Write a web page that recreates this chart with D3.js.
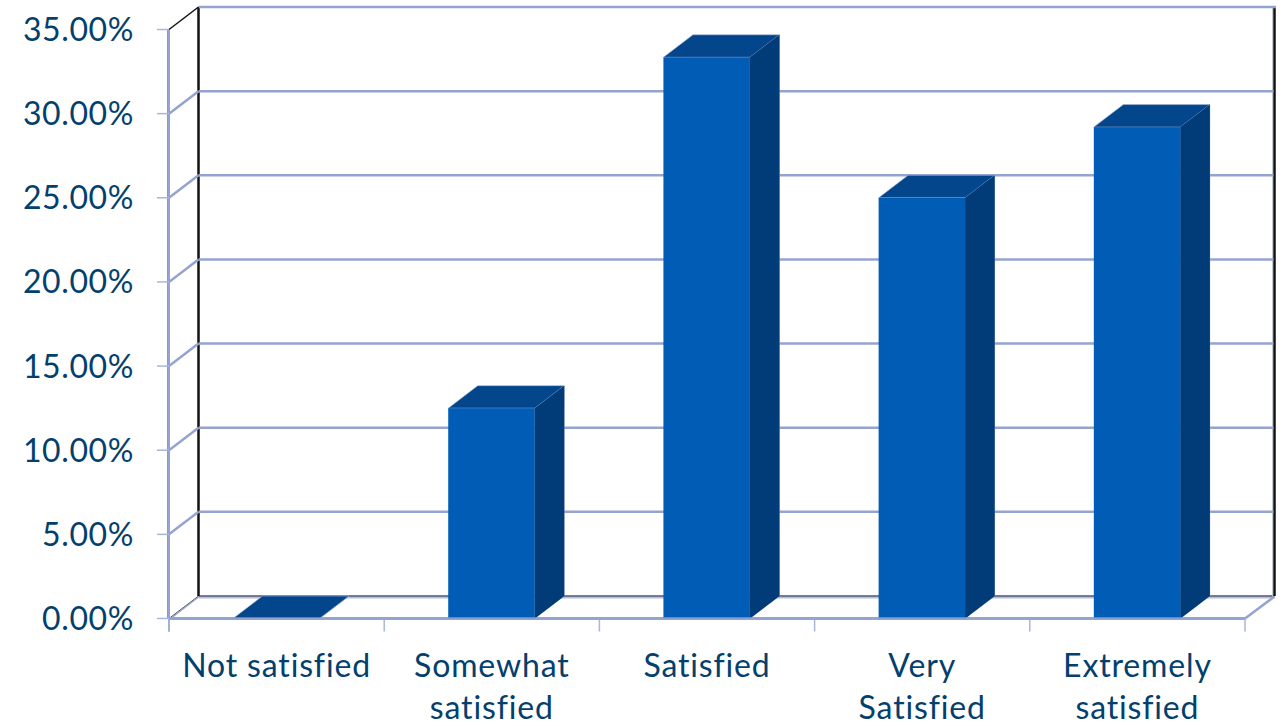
<!DOCTYPE html>
<html><head><meta charset="utf-8">
<script src="https://cdn.jsdelivr.net/npm/d3@7"></script>
<style>html,body{margin:0;padding:0;background:#fff;overflow:hidden}svg{display:block}text{font-family:Lato,"Open Sans",sans-serif;fill:#03406d}</style>
</head><body><svg id="c" width="1284" height="726"></svg>
<script>
const categories = [["Not satisfied"],["Somewhat","satisfied"],["Satisfied"],["Very","Satisfied"],["Extremely","satisfied"]];
const values = [0, 12.5, 33.35, 25.0, 29.2];
const yTicks = [0,5,10,15,20,25,30,35];

const svg = d3.select("#c");
const left=169, right=1245, base=618.5, top_=29.5, dx=29.5, dy=-22.5;
const x = d3.scaleBand().domain(d3.range(categories.length)).range([left,right]);
const y = d3.scaleLinear().domain([0,35]).range([base,top_]);
const barOffset=.2975, barW=.402;
const grid="#95a3d0", dark="#111", front="#015cb5", side="#023c78", topc="#03468c";
const line=(a,b,c,d,col,w)=>svg.append("line").attr("x1",a).attr("y1",b).attr("x2",c).attr("y2",d).attr("stroke",col).attr("stroke-width",w);

// floor
line(left+dx,base+dy+1.5,right+dx,base+dy+1.5,"#b4bfdf",2);
line(left+dx,base+dy,right+dx,base+dy,"#4d5272",1.5);
line(left,base,left+dx,base+dy,"#444",1);
line(left+1,base+.5,left+dx,base+dy+1,grid,1.5);
line(right,base,right+dx,base+dy+.5,grid,2.5);
// back wall verticals
line(left+dx,y(35)+dy,left+dx,base+dy,dark,2.5);
line(right+dx,y(35)+dy,right+dx,base+dy,dark,2.5);
line(right+dx-2,y(35)+dy,right+dx-2,base+dy,"#c5c9d4",1);
// side wall
line(left-1,y(35),left-1,base,"#555",1.2);
line(left,y(35),left,base+13,grid,2);
// gridlines
yTicks.forEach(t=>{
  if(t>0){
    line(left+dx,y(t)+dy,right+dx+(t===35?1.5:-1),y(t)+dy,grid,2.5);
    line(left,y(t),left+dx,y(t)+dy,t===35?dark:grid,t===35?1.5:2.5);
  }
  line(left-12,y(t),left,y(t),"#aab5da",1.5);
});
// x axis with ticks
line(left,base,right,base,grid,3);
d3.range(categories.length+1).forEach(i=>{
  const p=i<categories.length?x(i):right;
  line(p,base,p,base+13,"#aab5da",1.5);
});
// bars
const g=svg.append("g").selectAll("g").data(values).join("g");
const bx=i=>x(i)+x.bandwidth()*barOffset, bw=x.bandwidth()*barW;
const poly=pts=>pts.map(p=>p.join(",")).join(" ");
g.append("polygon").attr("fill",side).attr("stroke","#a9b6d8").attr("stroke-width",.6).attr("points",(d,i)=>{const a=bx(i)+bw;return poly([[a,y(d)],[a+dx,y(d)+dy],[a+dx,base+dy],[a,base]]);});
g.append("polygon").attr("fill",topc).attr("stroke","#a9b6d8").attr("stroke-width",.6).attr("points",(d,i)=>{const a=bx(i);return poly([[a,y(d)],[a+dx,y(d)+dy],[a+bw+dx,y(d)+dy],[a+bw,y(d)]]);});
g.append("polygon").attr("fill",side).attr("points",(d,i)=>{const a=bx(i)+bw;return poly([[a,y(d)],[a+dx,y(d)+dy],[a+dx,base+dy],[a,base]]);});
g.append("rect").attr("fill",front).attr("x",(d,i)=>bx(i)).attr("y",d=>y(d)).attr("width",bw).attr("height",d=>base-y(d));
line(left,base,right,base,grid,2.5).attr("opacity",.85);
// tick labels
svg.append("g").selectAll("text").data(yTicks).join("text")
  .attr("x",134).attr("y",d=>y(d)+11.5).attr("text-anchor","end").attr("font-size",32).attr("letter-spacing",.6)
  .text(d=>d.toFixed(2)+"%");
svg.append("g").selectAll("text").data(categories).join("text")
  .attr("text-anchor","middle").attr("font-size",32).attr("letter-spacing",.85)
  .each(function(d,i){
    d3.select(this).selectAll("tspan").data(d).join("tspan")
      .attr("x",x(i)+x.bandwidth()/2).attr("y",(s,j)=>677+j*42).text(s=>s);
  });
</script></body></html>
